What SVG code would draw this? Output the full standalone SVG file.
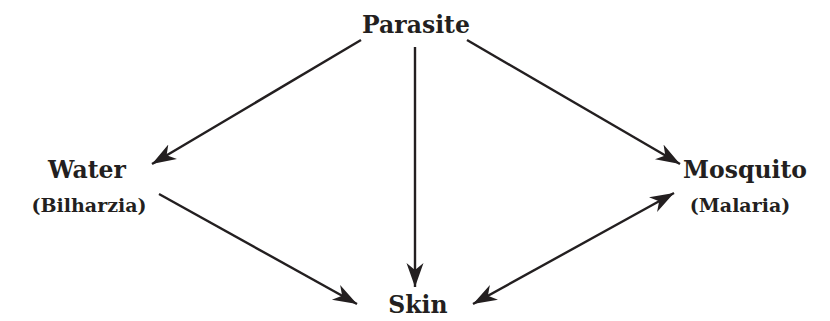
<svg xmlns="http://www.w3.org/2000/svg" width="830" height="321" viewBox="0 0 830 321">
<style>
.lbl{font-family:"DejaVu Serif","Liberation Serif",serif;font-weight:bold;fill:#231f20;text-anchor:middle}
.big{font-size:23.5px}
.sm{font-size:19px}
.edge{stroke:#231f20;stroke-width:2.4;fill:none}
</style>
<defs>
<marker id="ah" markerUnits="userSpaceOnUse" viewBox="-24 -10 26 20" refX="0" refY="0" markerWidth="26" markerHeight="20" orient="auto-start-reverse">
<path d="M0,0 L-24,-8.5 L-17,0 L-24,8.5 Z" fill="#231f20"/>
</marker>
</defs>
<rect width="830" height="321" fill="#fff"/>
<g id="connectors">
<line class="edge" x1="361" y1="40" x2="152" y2="164" marker-end="url(#ah)"/>
<line class="edge" x1="415" y1="47" x2="415" y2="287" marker-end="url(#ah)"/>
<line class="edge" x1="467" y1="40" x2="680" y2="164" marker-end="url(#ah)"/>
<line class="edge" x1="159" y1="194" x2="357" y2="304" marker-end="url(#ah)"/>
<line class="edge" x1="473" y1="304" x2="674" y2="193" marker-start="url(#ah)" marker-end="url(#ah)"/>
</g>
<g id="parasite"><text class="lbl big" x="416" y="33">Parasite</text></g>
<g id="water"><text class="lbl big" x="87" y="178">Water</text><text class="lbl sm" x="89" y="212">(Bilharzia)</text></g>
<g id="mosquito"><text class="lbl big" x="745" y="178">Mosquito</text><text class="lbl sm" x="740" y="212">(Malaria)</text></g>
<g id="skin"><text class="lbl big" x="418" y="313">Skin</text></g>
</svg>
